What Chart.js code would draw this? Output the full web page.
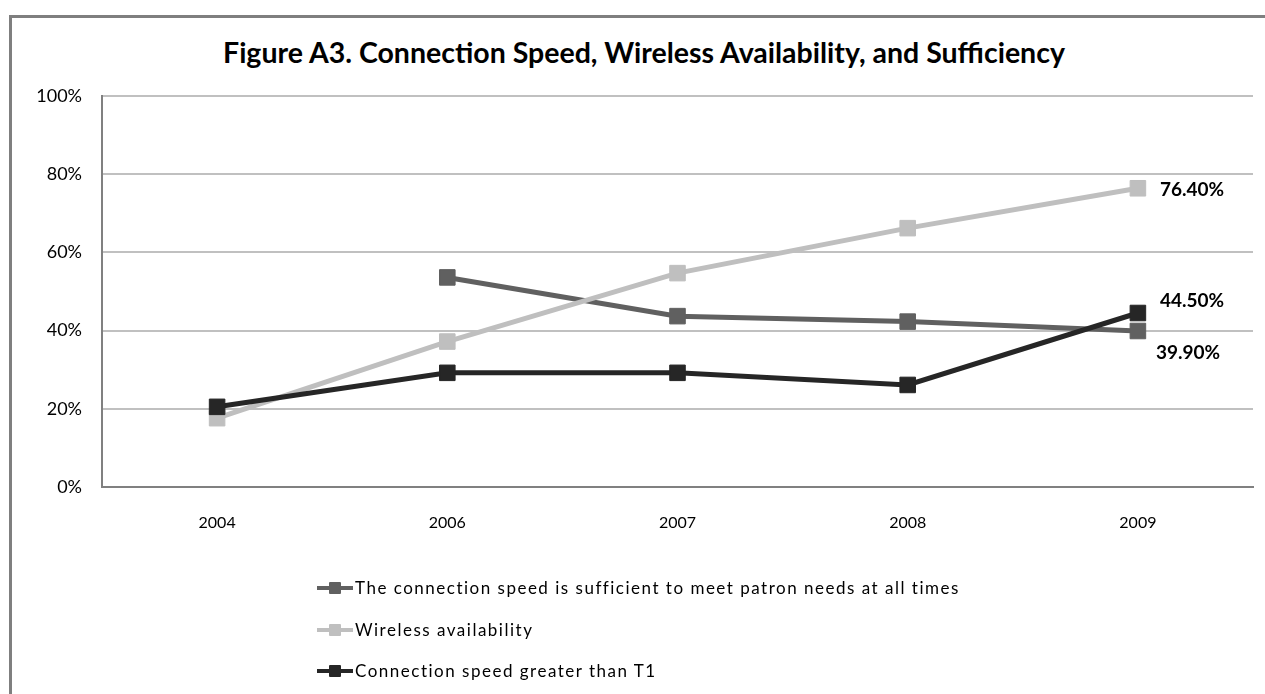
<!DOCTYPE html>
<html>
<head>
<meta charset="utf-8">
<script src="https://cdn.jsdelivr.net/npm/chart.js@4.4.1/dist/chart.umd.min.js"></script>
<style>
  html, body { margin: 0; padding: 0; background: #fff; overflow: hidden; }
  body { width: 1265px; height: 694px; position: relative; font-family: Lato, "Open Sans", sans-serif; }
  #frame { position: absolute; left: 9px; top: 15px; width: 1300px; height: 800px; border: 3px solid #7f7f7f; box-sizing: border-box; }
  #title { position: absolute; left: 0; width: 1288px; top: 35px; text-align: center; font-weight: bold; font-size: 28.5px; color: #000; }
  #chart { position: absolute; left: 0; top: 0; }
  #legend { position: absolute; left: 317px; top: 576px; }
  .item { height: 41.5px; display: flex; align-items: flex-start; font-size: 17px; letter-spacing: 1.5px; color: #000; }
  .swatch { position: relative; width: 36px; height: 24px; margin-right: 2px; }
  .swatch .ln { position: absolute; left: 0; right: 0; top: 10px; height: 4px; }
  .swatch .mk { position: absolute; left: 12px; top: 6px; width: 12px; height: 12px; border-radius: 1px; }
  .item span.txt { line-height: 24px; }
</style>
</head>
<body>
<div id="frame"></div>
<div id="title">Figure A3. Connection Speed, Wireless Availability, and Sufficiency</div>
<canvas id="chart" width="1265" height="694"></canvas>
<div id="legend"></div>
<script>
const years = ['2004', '2006', '2007', '2008', '2009'];
const sufficient = [null, 53.6, 43.7, 42.3, 39.9];
const wireless = [17.6, 37.2, 54.7, 66.2, 76.4];
const greaterT1 = [20.5, 29.2, 29.2, 26.1, 44.5];
const yTicks = [0, 20, 40, 60, 80, 100];

const seriesNames = [
    'The connection speed is sufficient to meet patron needs at all times',
    'Wireless availability',
    'Connection speed greater than T1',
];
const seriesColors = ['#606060', '#bfbfbf', '#262626'];

// only the last point of each series gets a label in the reference
const endLabels = {
    id: 'endLabels',
    afterDatasetsDraw(chart) {
        const ctx = chart.ctx;
        const offsets = [[18, 22], [22, 2], [22, -12]];
        ctx.save();
        ctx.font = 'bold 19px Lato, sans-serif';
        ctx.fillStyle = '#000';
        ctx.textBaseline = 'middle';
        chart.data.datasets.forEach((ds, i) => {
            const meta = chart.getDatasetMeta(i);
            const last = ds.data.length - 1;
            const pt = meta.data[last];
            if (!pt || ds.data[last] == null) return;
            ctx.fillText(ds.data[last].toFixed(2) + '%', pt.x + offsets[i][0], pt.y + offsets[i][1]);
        });
        ctx.restore();
    },
};

const makeDataset = (i, data, order) => ({
    label: seriesNames[i],
    data: data,
    borderColor: seriesColors[i],
    backgroundColor: seriesColors[i],
    borderWidth: 5,
    pointStyle: 'rect',
    pointRadius: 11,
    pointBorderWidth: 1,
    pointHoverRadius: 11,
    spanGaps: false,
    tension: 0,
    order: order,
});

const chart = new Chart(document.getElementById('chart'), {
    type: 'line',
    data: {
        labels: years,
        datasets: [
            makeDataset(0, sufficient, 2),
            makeDataset(1, wireless, 1),
            makeDataset(2, greaterT1, 0),
        ],
    },
    options: {
        responsive: false,
        animation: false,
        devicePixelRatio: 1,
        layout: { padding: { top: 96, right: 10, left: 0, bottom: 0 } },
        plugins: {
            legend: { display: false },
            title: { display: false },
            tooltip: { enabled: false },
        },
        scales: {
            x: {
                offset: true,
                grid: { display: false, drawTicks: false },
                border: { color: '#808080', width: 2 },
                ticks: { color: '#000', font: { family: 'Lato', size: 16 }, padding: 26 },
                afterFit: (s) => { s.height = 207; },
            },
            y: {
                min: 0,
                max: 100,
                afterBuildTicks: (s) => { s.ticks = yTicks.map((v) => ({ value: v })); },
                grid: { color: '#c0c0c0', lineWidth: 2, drawTicks: false },
                border: { color: '#808080', width: 2 },
                ticks: {
                    color: '#000',
                    font: { family: 'Lato', size: 18 },
                    padding: 20,
                    callback: (v) => v + '%',
                },
                afterFit: (s) => { s.width = 102; },
            },
        },
    },
    plugins: [endLabels],
});

// vertical legend like the original
const legendEl = document.getElementById('legend');
chart.data.datasets.forEach((ds) => {
    const row = document.createElement('div');
    row.className = 'item';
    row.innerHTML = '<div class="swatch"><div class="ln" style="background:' + ds.borderColor +
        '"></div><div class="mk" style="background:' + ds.borderColor + '"></div></div><span class="txt"></span>';
    row.querySelector('.txt').textContent = ds.label;
    legendEl.appendChild(row);
});
</script>
</body>
</html>
